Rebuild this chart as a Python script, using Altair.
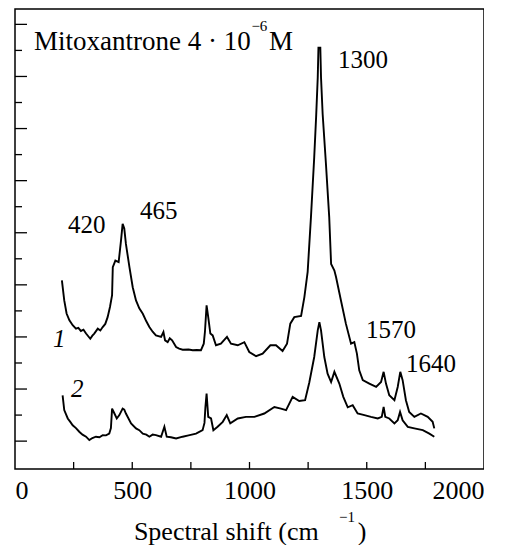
import altair as alt
import pandas as pd

# ---- data ----
wn1 = [200, 210, 220, 232, 246, 260, 270, 281, 292, 303,
       321, 330, 338, 353, 364, 374, 385, 395, 405, 414,
       417, 428, 442, 452, 459, 466, 473, 488, 502, 516,
       530, 545, 560, 573, 587, 601, 623, 633, 640, 651,
       660, 670, 687, 700, 715, 740, 758, 775, 793, 805,
       810, 817, 824, 833, 843, 857, 878, 904, 921, 950,
       978, 999, 1028, 1056, 1089, 1113, 1141, 1160, 1174, 1191,
       1220, 1234, 1248, 1262, 1276, 1284, 1291, 1294, 1302, 1305,
       1312, 1326, 1340, 1348, 1362, 1369, 1390, 1411, 1433, 1447,
       1458, 1468, 1483, 1511, 1540, 1561, 1572, 1582, 1596, 1618,
       1632, 1643, 1653, 1667, 1681, 1703, 1731, 1760, 1781, 1788]
int1 = [6.17, 5.4, 4.9, 4.64, 4.45, 4.32, 4.35, 4.23, 4.28, 4.13,
        3.93, 4.05, 4.13, 4.32, 4.25, 4.38, 4.5, 4.76, 5.15, 5.6,
        6.68, 6.93, 6.87, 7.7, 8.34, 8.16, 7.57, 6.68, 5.91, 5.4,
        5.1, 4.89, 4.6, 4.38, 4.2, 4.06, 4.0, 4.19, 3.87, 3.8,
        3.95, 3.87, 3.61, 3.55, 3.51, 3.52, 3.49, 3.5, 3.49, 3.74,
        4.2, 5.21, 4.76, 4.13, 4.06, 3.68, 3.74, 4.0, 3.74, 3.68,
        3.8, 3.42, 3.26, 3.36, 3.68, 3.68, 3.46, 3.74, 4.51, 4.76,
        4.81, 5.53, 6.5, 8.59, 10.9, 12.43, 13.96, 15.1, 15.1, 13.96,
        12.55, 10.64, 8.59, 6.8, 6.55, 6.3, 5.4, 4.51, 3.74, 3.8,
        3.36, 2.72, 2.34, 2.21, 2.08, 2.27, 2.66, 2.21, 1.76, 1.57,
        2.08, 2.66, 2.34, 1.57, 1.12, 0.93, 1.06, 0.93, 0.74, 0.49]

wn2 = [203, 210, 225, 235, 246, 260, 274, 288, 303, 317,
       330, 345, 360, 374, 388, 402, 409, 414, 424, 434,
       445, 459, 466, 473, 495, 516, 530, 545, 560, 573,
       587, 601, 623, 637, 647, 665, 687, 715, 740, 772,
       800, 808, 812, 817, 824, 836, 846, 864, 886, 903,
       918, 950, 985, 1021, 1063, 1106, 1134, 1156, 1184, 1212,
       1237, 1255, 1276, 1291, 1298, 1305, 1319, 1333, 1348, 1362,
       1383, 1400, 1419, 1440, 1461, 1490, 1518, 1547, 1564, 1572,
       1579, 1596, 1618, 1632, 1642, 1653, 1675, 1703, 1739, 1767,
       1788]
int2 = [1.76, 1.19, 0.87, 0.75, 0.61, 0.5, 0.36, 0.25, 0.17, 0.04,
        0.12, 0.17, 0.15, 0.23, 0.22, 0.29, 0.5, 1.25, 1.06, 0.87,
        1.0, 1.25, 1.21, 1.06, 0.68, 0.49, 0.42, 0.29, 0.25, 0.17,
        0.25, 0.23, 0.17, 0.55, 0.17, 0.15, 0.10, 0.17, 0.22, 0.29,
        0.42, 0.7, 1.31, 1.83, 0.93, 0.87, 0.42, 0.55, 0.74, 1.0,
        0.68, 0.87, 0.93, 0.93, 1.06, 1.31, 1.25, 1.19, 1.70, 1.54,
        1.57, 2.25, 3.23, 4.25, 4.57, 4.25, 3.23, 2.59, 2.27, 2.66,
        2.21, 1.7, 1.3, 1.38, 1.06, 1.0, 0.93, 0.87, 0.93, 1.31,
        0.93, 0.87, 0.68, 0.80, 1.12, 0.80, 0.55, 0.49, 0.42, 0.29,
        0.17]

x_labels = [0, 500, 1000, 1500, 2000]
x_minor = [250, 500, 750, 1000, 1250, 1500, 1750]
y_major = [0, 2, 4, 6, 8, 10, 12, 14, 16]
y_minor = [1, 3, 5, 7, 9, 11, 13, 15]

peak_text = ["420", "465", "1300", "1570", "1640"]
peak_x = [226, 533, 1377, 1497, 1667]
peak_y = [8.0, 8.54, 14.33, 3.95, 2.64]

curve_text = ["1", "2"]
curve_x = [162, 239]
curve_y = [3.60, 1.69]

title_text = ["Mitoxantrone 4 · 10", "M"]
title_x = [81, 1083]
title_y = [15.02, 15.02]
sup_text = ["−6"]
sup_x = [1008]
sup_y = [15.75]

xtitle_text = ["Spectral shift  (cm", ")"]
xtitle_x = [507, 1462]
xtitle_y = [-3.79, -3.79]
xsup_text = ["−1"]
xsup_x = [1382]
xsup_y = [-3.12]

# ---- build ----
W, H = 469, 460
FONT = "Liberation Serif"

xs = alt.Scale(domain=[0, 2000], nice=False)
ys = alt.Scale(domain=[-1.07, 16.59], nice=False, zero=False)

xaxis = alt.Axis(values=x_labels, format="d", ticks=False, tickSize=0, domain=False, grid=False,
                 labelFont=FONT, labelFontSize=26, labelColor="black", labelPadding=8,
                 title="")
X = alt.X("x:Q", scale=xs, axis=xaxis)
Y = alt.Y("y:Q", scale=ys, axis=None)

curves = pd.concat([
    pd.DataFrame({"x": wn1, "y": int1, "s": "1"}),
    pd.DataFrame({"x": wn2, "y": int2, "s": "2"}),
])

lines = alt.Chart(curves).mark_line(color="black", strokeWidth=1.9).encode(
    x=X, y=Y, detail="s:N")

ymaj = alt.Chart(pd.DataFrame({"y": y_major})).mark_rule(color="black", strokeWidth=1.3).encode(
    y=Y, x=alt.value(0), x2=alt.value(12))
ymin = alt.Chart(pd.DataFrame({"y": y_minor})).mark_rule(color="black", strokeWidth=1.3).encode(
    y=Y, x=alt.value(0), x2=alt.value(7))
xtk = alt.Chart(pd.DataFrame({"x": x_minor})).mark_rule(color="black", strokeWidth=1.3).encode(
    x=X, y=alt.value(H - 7), y2=alt.value(H))

def txt(xv, yv, tv, size=25, style="normal"):
    return alt.Chart(pd.DataFrame({"x": xv, "y": yv, "t": tv})).mark_text(
        align="left", baseline="alphabetic", font=FONT, fontSize=size,
        fontStyle=style, color="black").encode(x=X, y=Y, text="t:N")

chart = alt.layer(
    lines, ymaj, ymin, xtk,
    txt(peak_x, peak_y, peak_text),
    txt(curve_x, curve_y, curve_text, style="italic"),
    txt(title_x, title_y, title_text, size=27),
    txt(sup_x, sup_y, sup_text, size=15),
    txt(xtitle_x, xtitle_y, xtitle_text, size=26),
    txt(xsup_x, xsup_y, xsup_text, size=15),
).properties(
    width=W, height=H,
    padding={"left": 6, "top": 1, "right": 0, "bottom": 0},
).configure_view(stroke="black", strokeWidth=1.5)

chart.save("out.html", embed_options={"renderer": "svg", "actions": False})
